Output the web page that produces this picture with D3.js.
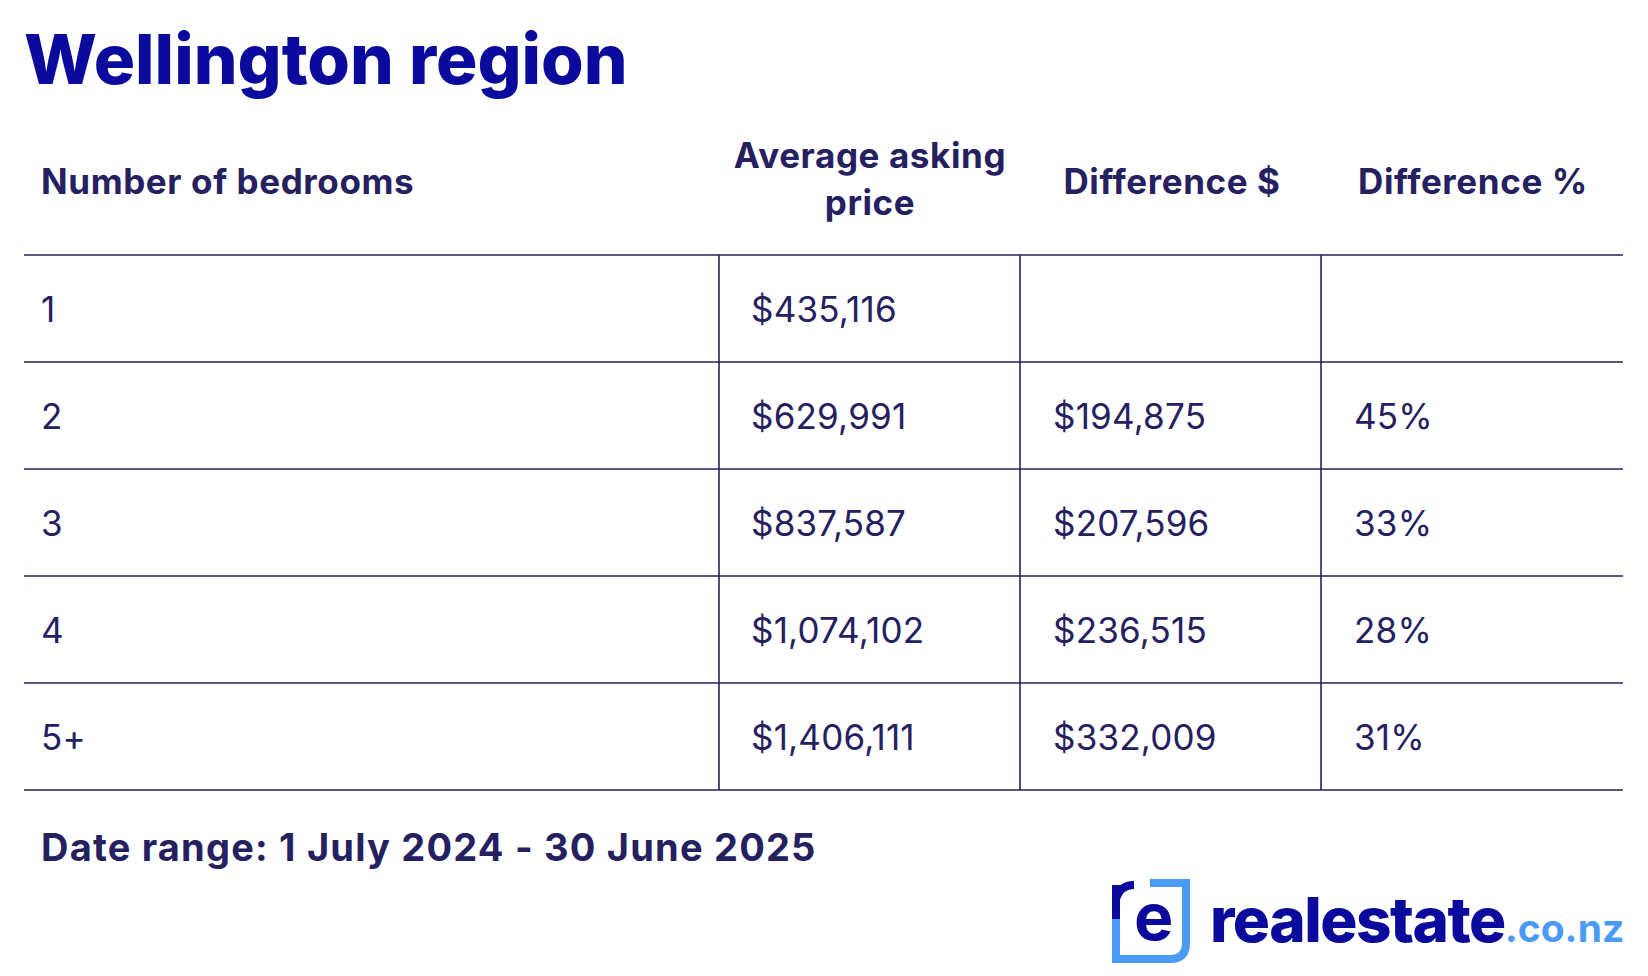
<!DOCTYPE html>
<html>
<head>
<meta charset="utf-8">
<script src="https://cdn.jsdelivr.net/npm/d3@7"></script>
<style>
  body { margin: 0; background: #fff; }
  svg { display: block; font-family: Inter, "Noto Sans", sans-serif; }
</style>
</head>
<body>
<svg width="1648" height="976"></svg>
<script>
// table data
const bedrooms = ["1", "2", "3", "4", "5+"];
const askingPrice = ["$435,116", "$629,991", "$837,587", "$1,074,102", "$1,406,111"];
const diffDollar = ["", "$194,875", "$207,596", "$236,515", "$332,009"];
const diffPct = ["", "45%", "33%", "28%", "31%"];
const headers = [["Number of bedrooms"], ["Average asking", "price"], ["Difference $"], ["Difference %"]];

const ink = "#25205f", title = "#0a0a9c", light = "#4a9bf5";
const svg = d3.select("svg");

svg.append("text").attr("x", 24).attr("y", 84)
  .attr("font-size", 69).attr("font-weight", 800).attr("fill", title)
  .attr("letter-spacing", 0).text("Wellington region");

const cols = [24, 719, 1020, 1321, 1623];
const y = d3.scaleBand().domain(d3.range(bedrooms.length)).range([255, 790]);

// header
const hx = [41, 870, 1172, 1473];
headers.forEach((h, i) => {
  const t = svg.append("text").attr("x", hx[i]).attr("font-size", 35).attr("font-weight", 700)
    .attr("fill", ink).attr("text-anchor", i === 0 ? "start" : "middle").attr("letter-spacing", 0.6);
  h.forEach((line, j) => t.append("tspan").attr("x", hx[i])
    .attr("y", h.length === 1 ? 194 : 168 + j * 47).text(line));
});

// lines
svg.append("line").attr("x1", cols[0]).attr("x2", cols[4]).attr("y1", 255).attr("y2", 255)
  .attr("stroke", ink).attr("stroke-width", 1.6);
bedrooms.forEach((b, i) => {
  svg.append("line").attr("x1", cols[0]).attr("x2", cols[4])
    .attr("y1", y(i) + y.bandwidth()).attr("y2", y(i) + y.bandwidth())
    .attr("stroke", ink).attr("stroke-width", 1.6);
});
[1, 2, 3].forEach(c => svg.append("line").attr("x1", cols[c]).attr("x2", cols[c])
  .attr("y1", 255).attr("y2", 790).attr("stroke", ink).attr("stroke-width", 1.6));

// cells
const tx = [41, 751, 1053, 1354];
[bedrooms, askingPrice, diffDollar, diffPct].forEach((col, c) => {
  svg.selectAll(null).data(col).join("text")
    .attr("x", tx[c]).attr("y", (d, i) => y(i) + y.bandwidth() / 2 + 13)
    .attr("font-size", 35).attr("fill", ink).attr("letter-spacing", 0.2).text(d => d);
});

svg.append("text").attr("x", 41).attr("y", 861).attr("font-size", 38).attr("font-weight", 700)
  .attr("fill", ink).attr("letter-spacing", 1.2).text("Date range: 1 July 2024 - 30 June 2025");

// logo
const g = svg.append("g").attr("transform", "translate(1110,877)");
g.append("path").attr("d", "M40,6 H76 V66 Q76,82 60,82 H6 V40")
  .attr("fill", "none").attr("stroke", light).attr("stroke-width", 8);
g.append("path").attr("d", "M6,42 V8 M6,22 Q10,8 24,8")
  .attr("fill", "none").attr("stroke", title).attr("stroke-width", 8);
g.append("text").attr("x", 24).attr("y", 63).attr("font-size", 66).attr("font-weight", 700)
  .attr("fill", title).text("e");
const lt = svg.append("text").attr("x", 1210).attr("y", 942).attr("font-size", 62)
  .attr("font-weight", 800).attr("letter-spacing", -1.5).attr("fill", title);
lt.append("tspan").text("realestate");
lt.append("tspan").attr("fill", light).attr("font-size", 39).attr("font-weight", 700).attr("letter-spacing", 0).text(".co.nz");
</script>
</body>
</html>
